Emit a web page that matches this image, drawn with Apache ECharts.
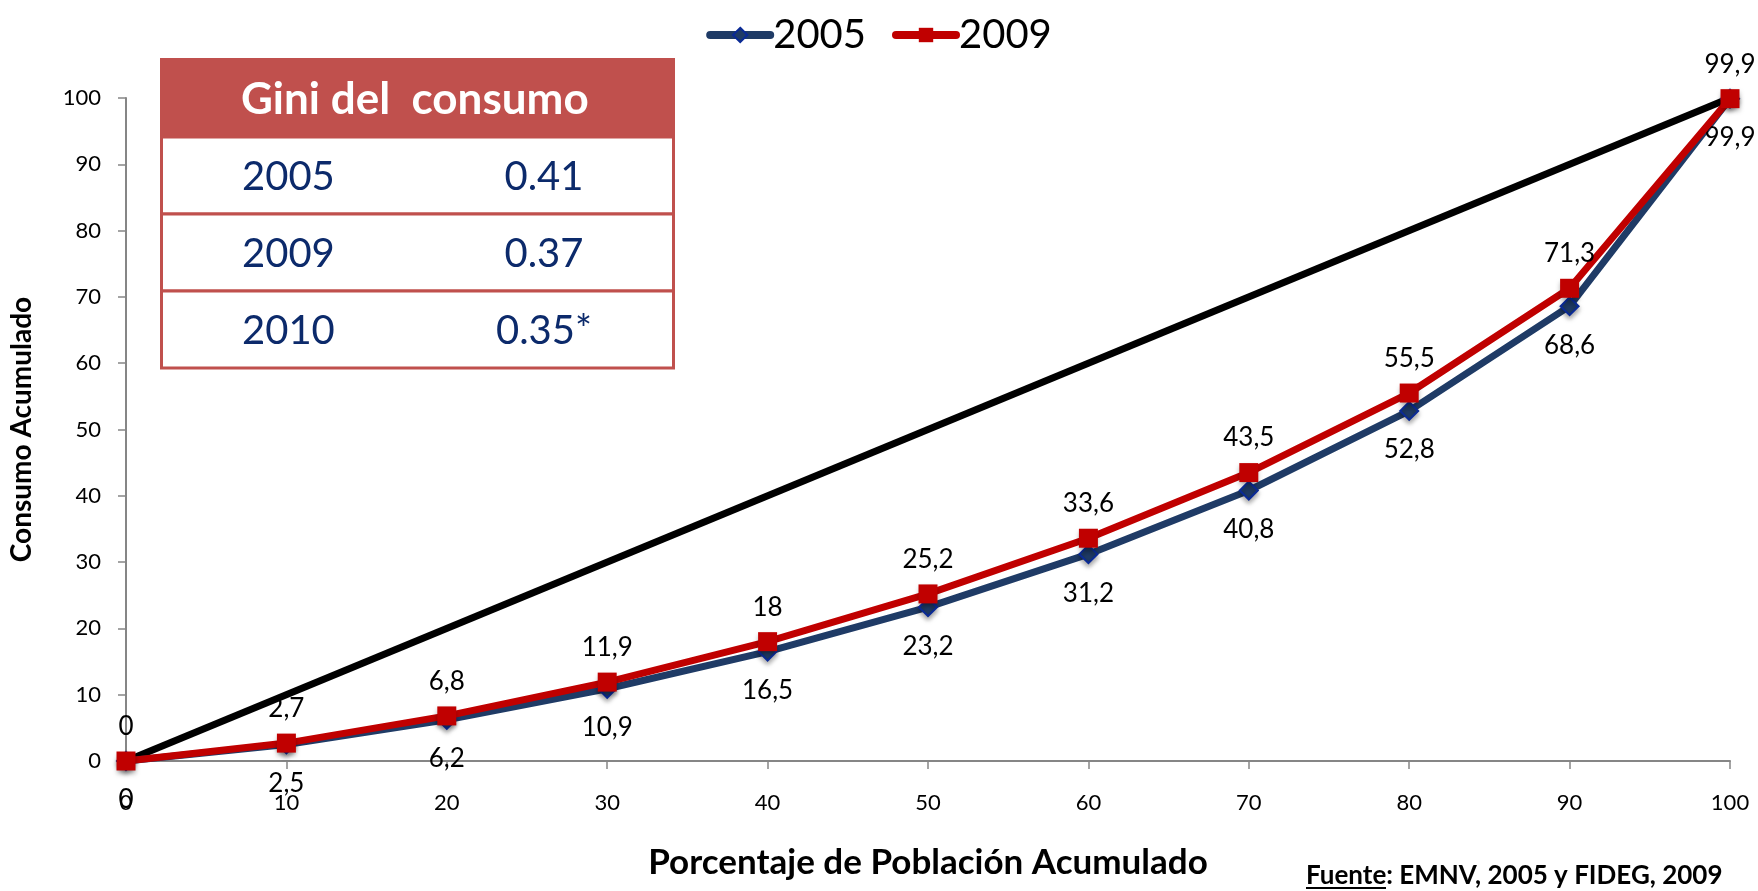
<!DOCTYPE html>
<html>
<head>
<meta charset="utf-8">
<style>
html,body{margin:0;padding:0;background:#fff;}
#chart{width:1758px;height:891px;}
</style>
<script src="https://cdn.jsdelivr.net/npm/echarts@6/dist/echarts.min.js"></script>
</head>
<body>
<div id="chart"></div>
<script>
// ---- data ----
const xValues = [0, 10, 20, 30, 40, 50, 60, 70, 80, 90, 100];
const consumo2005 = [0, 2.5, 6.2, 10.9, 16.5, 23.2, 31.2, 40.8, 52.8, 68.6, 99.9];
const consumo2009 = [0, 2.7, 6.8, 11.9, 18, 25.2, 33.6, 43.5, 55.5, 71.3, 99.9];
const equality = [0, 100];
const equalityX = [0, 100];
const giniHeader = 'Gini del  consumo';
const giniYears = ['2005', '2009', '2010'];
const giniValues = ['0.41', '0.37', '0.35*'];
const seriesNames = ['2005', '2009'];

const FONT = 'Lato';
const pair = (xs, ys) => xs.map((x, i) => [x, ys[i]]);
const fmt = p => String(p.value[1]).replace('.', ',');

const chart = echarts.init(document.getElementById('chart'));

// table graphic
const tbl = { x: 160, y: 58, w: 515, headH: 79, rowH: 77 };
const graphics = [];
graphics.push({ type: 'rect', shape: { x: tbl.x, y: tbl.y, width: tbl.w, height: tbl.headH },
  style: { fill: '#C0504D' }, z: 100 });
graphics.push({ type: 'text', x: 241, y: tbl.y + tbl.headH / 2 + 2,
  style: { text: giniHeader, fill: '#fff', font: 'bold 44px ' + FONT, textVerticalAlign: 'middle' }, z: 101 });
giniYears.forEach((yr, i) => {
  const top = tbl.y + tbl.headH + i * tbl.rowH;
  graphics.push({ type: 'rect', shape: { x: tbl.x + 1.5, y: top, width: tbl.w - 3, height: tbl.rowH },
    style: { fill: '#fff', stroke: '#C0504D', lineWidth: 3 }, z: 100 });
  graphics.push({ type: 'text', x: 242, y: top + tbl.rowH / 2 + 2,
    style: { text: yr, fill: '#0C2A6B', font: '40px ' + FONT, textVerticalAlign: 'middle' }, z: 101 });
  graphics.push({ type: 'text', x: 544, y: top + tbl.rowH / 2 + 2,
    style: { text: giniValues[i], fill: '#0C2A6B', font: '40px ' + FONT, textAlign: 'center', textVerticalAlign: 'middle' }, z: 101 });
});
// source
graphics.push({ type: 'text', x: 1306, y: 876,
  style: { text: 'Fuente: EMNV, 2005 y FIDEG, 2009', fill: '#000', font: 'bold 26px ' + FONT, textVerticalAlign: 'middle' }, z: 101 });
graphics.push({ type: 'line', shape: { x1: 1306, y1: 888, x2: 1386, y2: 888 },
  style: { stroke: '#000', lineWidth: 2 }, z: 101 });

chart.setOption({
  animation: false,
  textStyle: { fontFamily: FONT },
  legend: {
    data: seriesNames,
    top: 10, left: 'center',
    itemWidth: 60, itemHeight: 18, itemGap: 26,
    lineStyle: { width: 8, cap: 'round' },
    textStyle: { fontSize: 40, color: '#000', fontFamily: FONT, padding: [0, 0, 0, -2] }
  },
  grid: { left: 126, right: 28, top: 98, bottom: 130, containLabel: false, outerBoundsMode: 'none' },
  xAxis: {
    type: 'value', min: 0, max: 100, interval: 10,
    name: 'Porcentaje de Población Acumulado', nameLocation: 'middle', nameGap: 84,
    nameTextStyle: { fontSize: 35, fontWeight: 'bold', color: '#000', fontFamily: FONT },
    axisLine: { show: true, lineStyle: { color: '#868686', width: 2 } },
    axisTick: { show: true, length: 8, lineStyle: { color: '#868686', width: 1.5 } },
    axisLabel: { fontSize: 22, color: '#000', margin: 31, fontFamily: FONT },
    splitLine: { show: false }
  },
  yAxis: {
    type: 'value', min: 0, max: 100, interval: 10,
    name: 'Consumo Acumulado', nameLocation: 'middle', nameGap: 90,
    nameTextStyle: { fontSize: 28, fontWeight: 'bold', color: '#000', fontFamily: FONT },
    axisLine: { show: true, lineStyle: { color: '#868686', width: 2 } },
    axisTick: { show: true, length: 8, lineStyle: { color: '#868686', width: 1.5 } },
    axisLabel: { fontSize: 22, color: '#000', margin: 25, fontFamily: FONT },
    splitLine: { show: false }
  },
  series: [
    {
      name: 'equality', type: 'line', data: pair(equalityX, equality),
      symbol: 'none', lineStyle: { color: '#000', width: 7 }, z: 2, silent: true
    },
    {
      name: seriesNames[0], type: 'line', data: pair(xValues, consumo2005),
      symbol: 'diamond', symbolSize: 18, z: 3,
      lineStyle: { color: '#1F3B66', width: 7 },
      itemStyle: { color: '#1F3B66', borderColor: '#0A2A96', borderWidth: 2,
        shadowBlur: 5, shadowColor: 'rgba(0,0,0,0.35)', shadowOffsetY: 3 },
      label: { show: true, position: 'bottom', distance: 16, fontSize: 26, color: '#000',
        fontFamily: FONT, formatter: fmt }
    },
    {
      name: seriesNames[1], type: 'line', data: pair(xValues, consumo2009),
      symbol: 'rect', symbolSize: 19, z: 4,
      lineStyle: { color: '#C00000', width: 7 },
      itemStyle: { color: '#C00000', shadowBlur: 5, shadowColor: 'rgba(0,0,0,0.35)', shadowOffsetY: 3 },
      label: { show: true, position: 'top', distance: 12, fontSize: 26, color: '#000',
        fontFamily: FONT, formatter: fmt }
    }
  ],
  graphic: graphics
});
</script>
</body>
</html>
